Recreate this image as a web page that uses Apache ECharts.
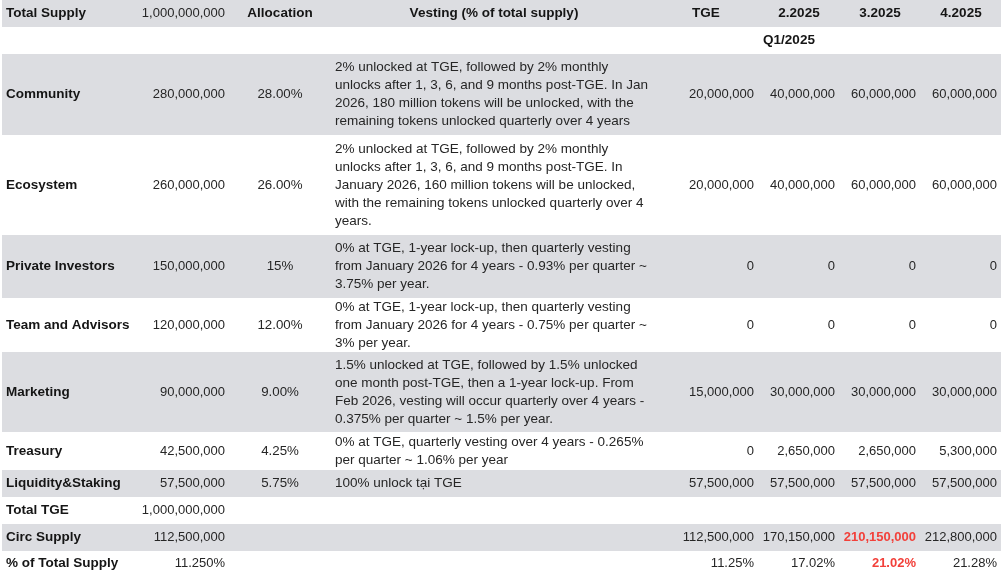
<!DOCTYPE html>
<html>
<head>
<meta charset="utf-8">
<script src="https://cdn.jsdelivr.net/npm/echarts@6/dist/echarts.min.js"></script>
<style>
  html, body { margin: 0; padding: 0; background: #fff; }
  #main { width: 1001px; height: 576px; }
</style>
</head>
<body>
<div id="main"></div>
<script>
// table data
var headers = ['Total Supply', '1,000,000,000', 'Allocation', 'Vesting (% of total supply)', 'TGE', '2.2025', '3.2025', '4.2025']
var quarterLabel = 'Q1/2025'
var categories = ['Community', 'Ecosystem', 'Private Investors', 'Team and Advisors', 'Marketing', 'Treasury', 'Liquidity&Staking']
var supply = [280000000, 260000000, 150000000, 120000000, 90000000, 42500000, 57500000]
var allocation = ['28.00%', '26.00%', '15%', '12.00%', '9.00%', '4.25%', '5.75%']
var vesting = [
  ['2% unlocked at TGE, followed by 2% monthly', 'unlocks after 1, 3, 6, and 9 months post-TGE. In Jan', '2026, 180 million tokens will be unlocked, with the', 'remaining tokens unlocked quarterly over 4 years'],
  ['2% unlocked at TGE, followed by 2% monthly', 'unlocks after 1, 3, 6, and 9 months post-TGE. In', 'January 2026, 160 million tokens will be unlocked,', 'with the remaining tokens unlocked quarterly over 4', 'years.'],
  ['0% at TGE, 1-year lock-up, then quarterly vesting', 'from January 2026 for 4 years - 0.93% per quarter ~', '3.75% per year.'],
  ['0% at TGE, 1-year lock-up, then quarterly vesting', 'from January 2026 for 4 years - 0.75% per quarter ~', '3% per year.'],
  ['1.5% unlocked at TGE, followed by 1.5% unlocked', 'one month post-TGE, then a 1-year lock-up. From', 'Feb 2026, vesting will occur quarterly over 4 years -', '0.375% per quarter ~ 1.5% per year.'],
  ['0% at TGE, quarterly vesting over 4 years - 0.265%', 'per quarter ~ 1.06% per year'],
  ['100% unlock tại TGE']
]
var unlockTGE = [20000000, 20000000, 0, 0, 15000000, 0, 57500000]
var unlockFeb = [40000000, 40000000, 0, 0, 30000000, 2650000, 57500000]
var unlockMar = [60000000, 60000000, 0, 0, 30000000, 2650000, 57500000]
var unlockApr = [60000000, 60000000, 0, 0, 30000000, 5300000, 57500000]
var totalTGE = 1000000000
var circSupply = [112500000, 112500000, 170150000, 210150000, 212800000]
var circPct = ['11.250%', '11.25%', '17.02%', '21.02%', '21.28%']
var highlightPeriod = 2 // 3.2025 shown in red

// layout
var W = 1001, H = 576
var rowHeights = [27, 27, 81, 100, 63, 54, 80, 38, 27, 27, 27, 25]
var grayRows = [0, 2, 4, 6, 8, 10]
var colX = [6, 225, 280, 335, 754, 835, 916, 997]
var headX = [6, 225, 280, 494, 706, 799, 880, 961]
var headAlign = ['left', 'right', 'center', 'center', 'center', 'center', 'center', 'center']
var FONT = "'Liberation Sans', Arial, Helvetica, sans-serif"
var TXT = '#262626', BOLD = '#151515', RED = '#f2403a', GRAY = '#dcdde1'
var WORD_SIZE = 13.5, NUM_SIZE = 13

var rowTop = [0]
rowHeights.forEach(function (h, i) { rowTop.push(rowTop[i] + h) })
function rowMid(r) { return rowTop[r] + rowHeights[r] / 2 }
function fmt(n) { return n.toLocaleString('en-US') }

// cell list: [x, y, text, align, bold, color, size]
var cells = []
function add(x, y, t, align, bold, color, size) { cells.push([x, y, t, align, bold, color, size]) }
headers.forEach(function (t, c) {
  if (c === 1) add(headX[c], rowMid(0), t, headAlign[c], false, TXT, NUM_SIZE)
  else add(headX[c], rowMid(0), t, headAlign[c], true, BOLD, WORD_SIZE)
})
add(789, rowMid(1), quarterLabel, 'center', true, BOLD, WORD_SIZE)
categories.forEach(function (name, i) {
  var r = i + 2, y = rowMid(r)
  add(colX[0], y, name, 'left', true, BOLD, WORD_SIZE)
  add(colX[1], y, fmt(supply[i]), 'right', false, TXT, NUM_SIZE)
  add(colX[2], y, allocation[i], 'center', false, TXT, 13.3)
  add(colX[3], y, vesting[i].join('\n'), 'left', false, TXT, WORD_SIZE)
  ;[unlockTGE, unlockFeb, unlockMar, unlockApr].forEach(function (arr, k) {
    add(colX[4 + k], y, fmt(arr[i]), 'right', false, TXT, NUM_SIZE)
  })
})
var rTotal = categories.length + 2
add(colX[0], rowMid(rTotal), 'Total TGE', 'left', true, BOLD, WORD_SIZE)
add(colX[1], rowMid(rTotal), fmt(totalTGE), 'right', false, TXT, NUM_SIZE)
add(colX[0], rowMid(rTotal + 1), 'Circ Supply', 'left', true, BOLD, WORD_SIZE)
add(colX[0], rowMid(rTotal + 2), '% of Total Supply', 'left', true, BOLD, WORD_SIZE)
circSupply.forEach(function (v, k) {
  var c = k === 0 ? 1 : k + 3
  var red = k - 1 === highlightPeriod
  add(colX[c], rowMid(rTotal + 1), fmt(v), 'right', red, red ? RED : TXT, NUM_SIZE)
  add(colX[c], rowMid(rTotal + 2), circPct[k], 'right', red, red ? RED : TXT, NUM_SIZE)
})

var bands = grayRows.map(function (r) { return [rowTop[r], rowTop[r + 1]] })

var chart = echarts.init(document.getElementById('main'))
chart.setOption({
  backgroundColor: '#fff',
  animation: false,
  grid: { left: 0, right: 0, top: 0, bottom: 0 },
  xAxis: { type: 'value', min: 0, max: W, show: false },
  yAxis: { type: 'value', min: 0, max: H, inverse: true, show: false },
  series: [
    {
      type: 'custom',
      silent: true,
      data: bands,
      renderItem: function (params, api) {
        var p0 = api.coord([2, api.value(0)])
        var p1 = api.coord([W, api.value(1)])
        return {
          type: 'rect',
          shape: { x: p0[0], y: p0[1], width: p1[0] - p0[0], height: p1[1] - p0[1] },
          style: { fill: GRAY }
        }
      }
    },
    {
      type: 'custom',
      silent: true,
      data: cells,
      renderItem: function (params, api) {
        var c = cells[params.dataIndex]
        var p = api.coord([c[0], c[1]])
        return {
          type: 'text',
          x: p[0],
          y: p[1],
          style: {
            text: c[2],
            align: c[3],
            verticalAlign: 'middle',
            font: (c[4] ? 'bold ' : '') + c[6] + 'px ' + FONT,
            lineHeight: 18,
            fill: c[5]
          }
        }
      }
    }
  ]
})
</script>
</body>
</html>
